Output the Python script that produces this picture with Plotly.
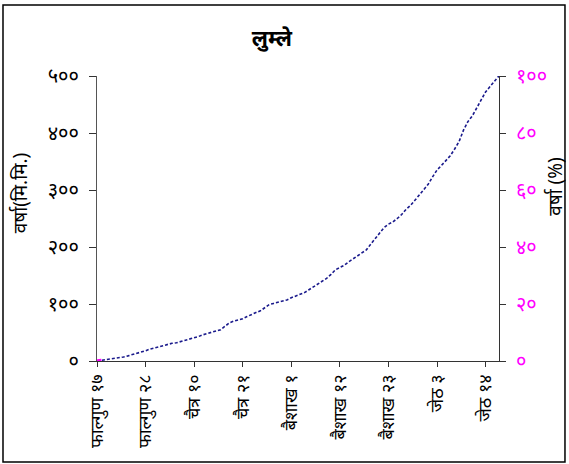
import plotly.graph_objects as go

DEV = str.maketrans("0123456789", "०१२३४५६७८९")

def dev(n):
    return str(n).translate(DEV)

# Nepali dates (categories): फाल्गुण 17 .. जेठ 17
months = [("फाल्गुण", 17, 29), ("चैत्र", 1, 31), ("बैशाख", 1, 31), ("जेठ", 1, 17)]
dates = []
for m, a, b in months:
    for d in range(a, b + 1):
        dates.append(f"{m} {dev(d)}")

# cumulative rainfall (mm)
rain_cum = [0, 1, 2, 4, 5, 6, 7, 9, 11, 13, 16, 18, 21, 23, 26, 28, 29, 31, 32, 34,
            36, 38, 40, 43, 46, 48, 50, 53, 55, 61, 67, 70, 72, 74, 78, 82, 85, 88, 94, 99,
            101, 103, 104, 107, 111, 114, 117, 120, 125, 130, 136, 141, 145, 152, 160, 164,
            168, 174, 179, 184, 189, 195, 205, 215, 226, 234, 240, 244, 250, 257, 266, 273,
            282, 291, 299, 310, 323, 335, 343, 351, 360, 372, 385, 405, 420, 430, 443, 458,
            472, 481, 491, 500]

left_ticks = [0, 100, 200, 300, 400, 500]
right_ticks = [0, 20, 40, 60, 80, 100]
tick_dates = dates[::11]

total = rain_cum[-1]
pct = [v / total * 100 for v in rain_cum]

FONT = "Noto Sans, Noto Sans Devanagari, Lohit Devanagari, DejaVu Sans, sans-serif"

fig = go.Figure()
fig.add_trace(go.Scatter(
    x=dates, y=rain_cum, mode="lines",
    line=dict(color="#1a1a8c", width=1.6, dash="3px,2px"),
    showlegend=False, hoverinfo="skip"))
fig.add_trace(go.Scatter(
    x=dates[:2], y=pct[:2], mode="lines", yaxis="y2",
    line=dict(color="#ff00ff", width=3.5),
    showlegend=False, hoverinfo="skip"))

fig.update_layout(
    width=569, height=464,
    margin=dict(l=97, r=64, t=76, b=103),
    paper_bgcolor="white", plot_bgcolor="white",
    font=dict(family=FONT, color="black"),
    title=dict(text="<b>लुम्ले</b>", x=0.478, xanchor="center",
               y=0.918, yanchor="middle", font=dict(size=22, color="black")),
    xaxis=dict(type="category", categoryorder="array", categoryarray=dates,
               range=[0, 92.4], tickmode="array", tickvals=tick_dates,
               ticktext=tick_dates, tickangle=-90, ticks="outside", ticklen=5,
               tickcolor="#333", showline=True, linecolor="#333", linewidth=1.2,
               showgrid=False, zeroline=False, tickfont=dict(size=18)),
    yaxis=dict(range=[0, 500], tickmode="array", tickvals=left_ticks,
               ticktext=[dev(t) for t in left_ticks], ticks="outside", ticklen=7,
               tickcolor="#333", showline=True, linecolor="#555", linewidth=1.2,
               showgrid=False, zeroline=False, tickfont=dict(size=20),
               ticklabelstandoff=6),
    yaxis2=dict(overlaying="y", side="right", anchor="free", position=0.985,
                range=[0, 100], tickmode="array", tickvals=right_ticks,
                ticktext=[dev(t) for t in right_ticks], ticks="outside", ticklen=6,
                tickcolor="#333", showline=True, linecolor="#333", linewidth=1.2,
                showgrid=False, zeroline=False,
                tickfont=dict(size=20, color="#ff00ff"), ticklabelstandoff=6),
)

fig.add_annotation(text="वर्षा(मि.मि.)", xref="paper", yref="paper",
                   x=-0.19, y=0.59, textangle=-90, showarrow=False,
                   xanchor="center", yanchor="middle", font=dict(size=19))
fig.add_annotation(text="वर्षा (%)", xref="paper", yref="paper",
                   x=1.122, y=0.614, textangle=-90, showarrow=False,
                   xanchor="center", yanchor="middle", font=dict(size=19))

fig.add_shape(type="rect", xref="paper", yref="paper",
              x0=-0.2304, x1=1.147, y0=-0.354, y1=1.249,
              line=dict(color="black", width=1.5), fillcolor="rgba(0,0,0,0)")

fig.write_html("out.html", config={"displayModeBar": False},
               post_script="document.body.style.margin='0';document.body.style.overflow='hidden';")
